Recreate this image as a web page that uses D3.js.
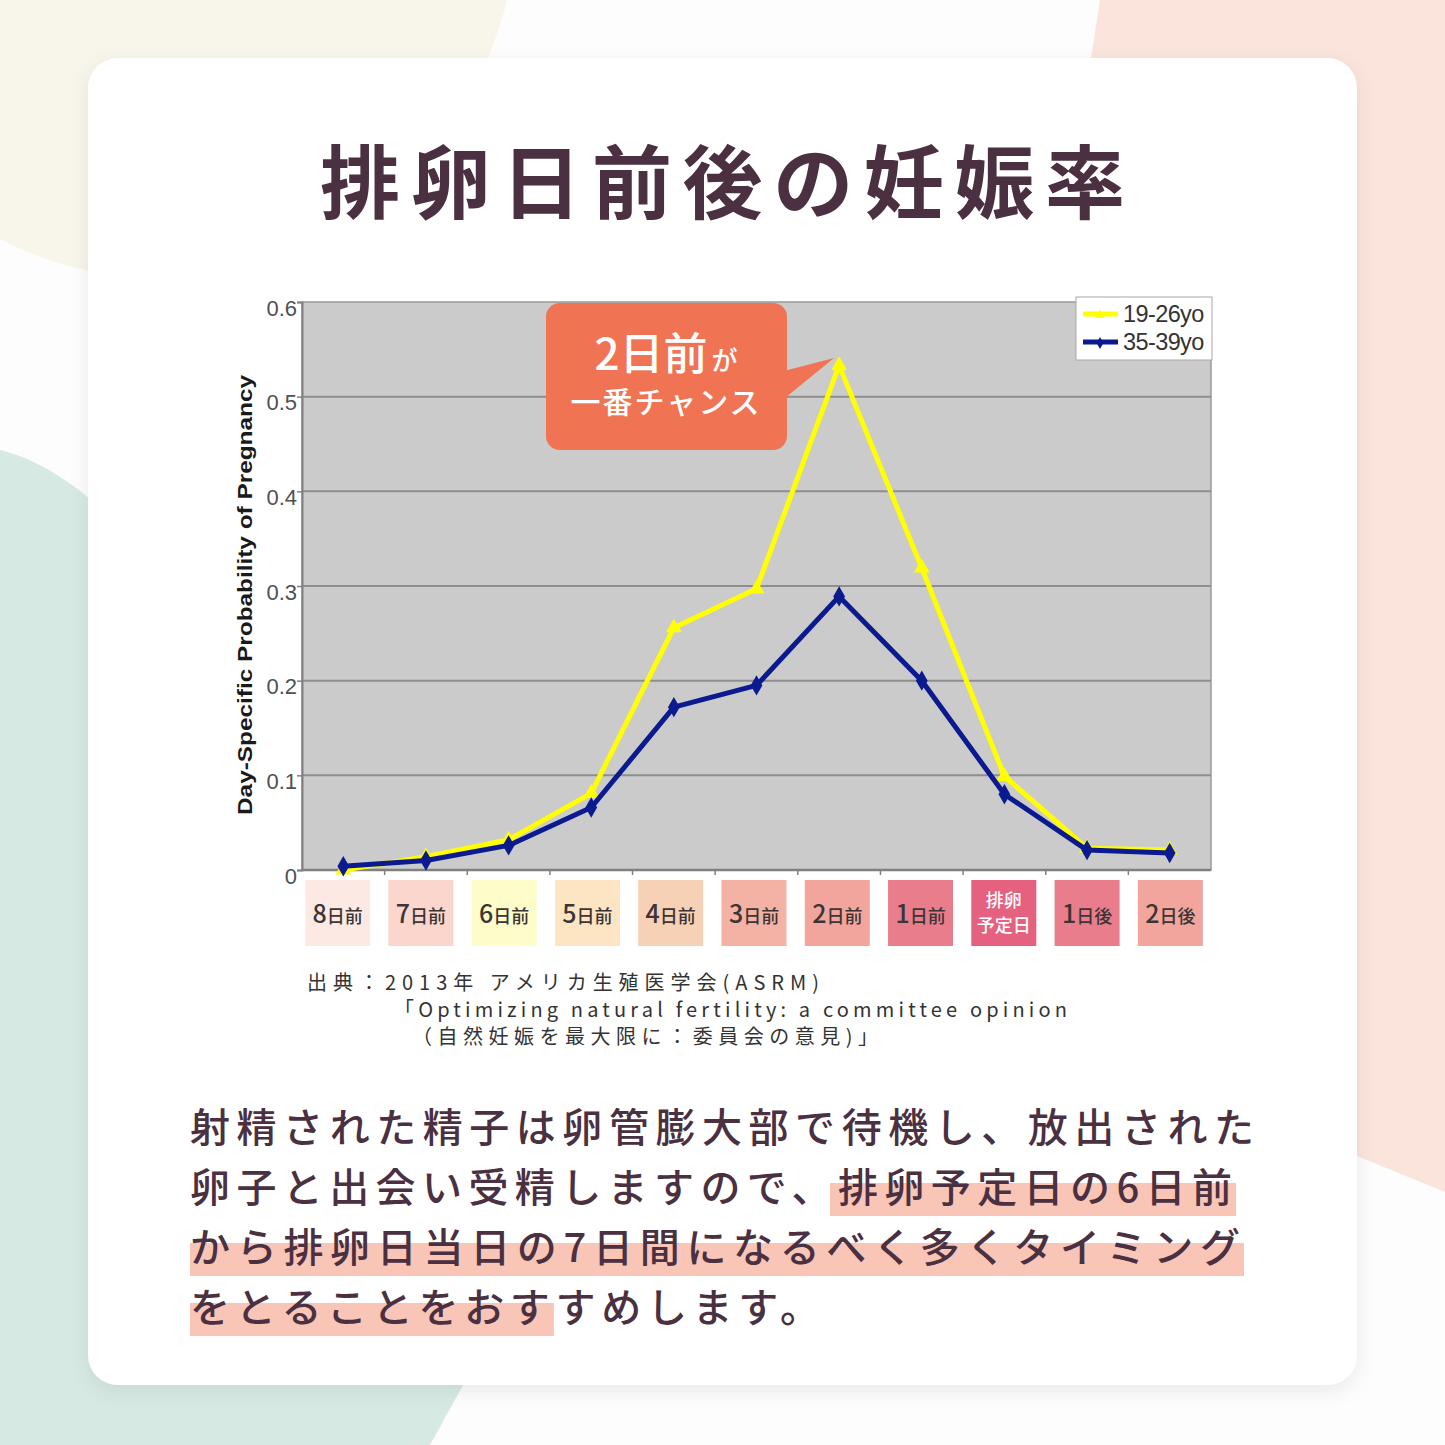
<!DOCTYPE html>
<html>
<head>
<meta charset="utf-8">
<script src="https://cdn.jsdelivr.net/npm/d3@7"></script>
<style>
  body { margin: 0; background: #fdfdfd; }
  svg { display: block; }
</style>
</head>
<body>
<script>
// data
var days = ["8日前", "7日前", "6日前", "5日前", "4日前", "3日前", "2日前", "1日前", "排卵予定日", "1日後", "2日後"];
var young = [0.000, 0.014, 0.032, 0.081, 0.256, 0.297, 0.533, 0.319, 0.099, 0.023, 0.021];
var older = [0.004, 0.010, 0.026, 0.066, 0.172, 0.195, 0.289, 0.200, 0.080, 0.021, 0.018];
var yTicks = [0, 0.1, 0.2, 0.3, 0.4, 0.5, 0.6];
var seriesNames = ["19-26yo", "35-39yo"];
var dayColors = ["#fde9e4", "#fbd6cd", "#fefcc8", "#fde4c2", "#f7d1b5", "#f3b2a4", "#f1a59d", "#ea7d8c", "#e5617f", "#ea7d8c", "#f1a59d"];

var W = 1445, H = 1445;
var ink = "#4a3040";

var svg = d3.select("body").append("svg")
  .attr("width", W)
  .attr("height", H);

var defs = svg.append("defs");
var f = defs.append("filter").attr("id", "shadow")
  .attr("x", "-10%").attr("y", "-10%").attr("width", "120%").attr("height", "120%");
f.append("feDropShadow")
  .attr("dx", 0).attr("dy", 6).attr("stdDeviation", 10)
  .attr("flood-color", "#000").attr("flood-opacity", 0.08);

// background blobs
var bg = svg.append("g");
bg.append("rect").attr("width", W).attr("height", H).attr("fill", "#fdfdfd");
bg.append("ellipse")
  .attr("cx", 160).attr("cy", -90).attr("rx", 358).attr("ry", 368)
  .attr("fill", "#f8f6ea");
bg.append("path")
  .attr("d", "M1100,0 L1445,0 L1445,1192 L1330,1145 L1060,260 Z")
  .attr("fill", "#fbe4dc");
bg.append("path")
  .attr("d", "M0,450 C55,463 110,510 160,570 L530,1180 L488,1340 L430,1445 L0,1445 Z")
  .attr("fill", "#d6eae3");

// card
svg.append("rect")
  .attr("x", 88).attr("y", 58)
  .attr("width", 1269).attr("height", 1327)
  .attr("rx", 30)
  .attr("fill", "#ffffff")
  .attr("filter", "url(#shadow)");

// title
svg.append("text")
  .attr("x", 320).attr("y", 212)
  .attr("textLength", 805)
  .attr("lengthAdjust", "spacing")
  .style("font-family", "'Noto Sans CJK JP'")
  .style("font-weight", 700)
  .style("font-size", "80px")
  .attr("fill", ink)
  .text("排卵日前後の妊娠率");

// chart
var x = d3.scalePoint().domain(days).range([302, 1211]).padding(0.5);
var xBox = d3.scalePoint().domain(days).range([296, 1212]).padding(0.5);
var y = d3.scaleLinear().domain([0, 0.6]).range([870, 302]);
var step = x.step();

var plot = svg.append("g");
plot.append("rect")
  .attr("x", 302).attr("y", y(0.6))
  .attr("width", 1211 - 302).attr("height", y(0) - y(0.6))
  .attr("fill", "#cbcbcb")
  .attr("stroke", "#9a9a9a")
  .attr("stroke-width", 1.5);

plot.selectAll("line.grid")
  .data(yTicks.slice(1, -1))
  .enter().append("line")
  .attr("class", "grid")
  .attr("x1", 302).attr("x2", 1211)
  .attr("y1", function (d) { return y(d); })
  .attr("y2", function (d) { return y(d); })
  .attr("stroke", "#8e8e8e")
  .attr("stroke-width", 2);

// left axis
var yAxis = d3.axisLeft(y)
  .tickValues(yTicks)
  .tickSize(5)
  .tickFormat(function (d) { return d === 0 ? "0" : d3.format(".1f")(d); });

var yAxisG = plot.append("g")
  .attr("transform", "translate(302,0)")
  .call(yAxis);
yAxisG.select(".domain").attr("stroke", "#808080").attr("stroke-width", 2);
yAxisG.selectAll(".tick line").attr("stroke", "#808080").attr("stroke-width", 1.5);
yAxisG.selectAll(".tick text")
  .attr("x", -5)
  .attr("dy", "0.6em")
  .style("font-family", "'Liberation Sans', Arial, sans-serif")
  .style("font-size", "22px")
  .attr("fill", "#505050");

// bottom axis line + ticks at category boundaries
plot.append("line")
  .attr("x1", 302).attr("x2", 1211)
  .attr("y1", y(0)).attr("y2", y(0))
  .attr("stroke", "#808080").attr("stroke-width", 2.5);
plot.selectAll("line.xtick")
  .data(days.slice(1))
  .enter().append("line")
  .attr("class", "xtick")
  .attr("x1", function (d) { return x(d) - step / 2; })
  .attr("x2", function (d) { return x(d) - step / 2; })
  .attr("y1", y(0)).attr("y2", y(0) + 5)
  .attr("stroke", "#808080").attr("stroke-width", 1.5);

// axis title
svg.append("text")
  .attr("transform", "translate(252,595) rotate(-90)")
  .attr("text-anchor", "middle")
  .attr("textLength", 440)
  .attr("lengthAdjust", "spacingAndGlyphs")
  .style("font-family", "'Liberation Sans', Arial, sans-serif")
  .style("font-weight", 700)
  .style("font-size", "20px")
  .attr("fill", "#1a1a1a")
  .text("Day-Specific Probability of Pregnancy");

// lines
var line = d3.line()
  .x(function (d, i) { return x(days[i]); })
  .y(function (d) { return y(d); });

plot.append("path")
  .datum(young)
  .attr("d", line)
  .attr("fill", "none")
  .attr("stroke", "#ffff00")
  .attr("stroke-width", 5)
  .attr("stroke-linejoin", "round");

plot.selectAll("path.tri")
  .data(young)
  .enter().append("path")
  .attr("class", "tri")
  .attr("d", d3.symbol().type(d3.symbolTriangle).size(110))
  .attr("transform", function (d, i) { return "translate(" + x(days[i]) + "," + y(d) + ")"; })
  .attr("fill", "#ffff00");

plot.append("path")
  .datum(older)
  .attr("d", line)
  .attr("fill", "none")
  .attr("stroke", "#0b1a8e")
  .attr("stroke-width", 5)
  .attr("stroke-linejoin", "round");

plot.selectAll("path.dia")
  .data(older)
  .enter().append("path")
  .attr("class", "dia")
  .attr("d", d3.symbol().type(d3.symbolDiamond).size(120))
  .attr("transform", function (d, i) { return "translate(" + x(days[i]) + "," + y(d) + ")"; })
  .attr("fill", "#0b1a8e");

// legend
var legend = svg.append("g").attr("transform", "translate(1076,297)");
legend.append("rect")
  .attr("width", 136).attr("height", 63)
  .attr("fill", "#fff")
  .attr("stroke", "#a8a8a8");
var legendColors = ["#ffff00", "#0b1a8e"];
var li = legend.selectAll("g.item")
  .data(seriesNames)
  .enter().append("g")
  .attr("class", "item")
  .attr("transform", function (d, i) { return "translate(0," + (17 + i * 28) + ")"; });
li.append("line")
  .attr("x1", 7).attr("x2", 42)
  .attr("stroke", function (d, i) { return legendColors[i]; })
  .attr("stroke-width", 5);
li.append("path")
  .attr("d", function (d, i) { return d3.symbol().type(i ? d3.symbolDiamond : d3.symbolTriangle).size(40)(); })
  .attr("transform", "translate(24,1)")
  .attr("fill", function (d, i) { return legendColors[i]; });
li.append("text")
  .attr("x", 47).attr("dy", "0.36em")
  .style("font-family", "'Liberation Sans', Arial, sans-serif")
  .style("font-size", "23.5px")
  .style("letter-spacing", "-0.6px")
  .attr("fill", "#333")
  .text(function (d) { return d; });

// callout
var co = svg.append("g");
co.append("path")
  .attr("d", "M780,372 L834,358 L780,402 Z")
  .attr("fill", "#f07453");
co.append("rect")
  .attr("x", 546).attr("y", 303)
  .attr("width", 241).attr("height", 147)
  .attr("rx", 14)
  .attr("fill", "#f07453");
var t1 = co.append("text")
  .attr("x", 666).attr("y", 370)
  .attr("text-anchor", "middle")
  .style("font-family", "'Noto Sans CJK JP'")
  .style("font-weight", 500)
  .attr("fill", "#fff");
t1.append("tspan").style("font-size", "44px").text("2日前");
t1.append("tspan").style("font-size", "26px").attr("dx", 4).text("が");
co.append("text")
  .attr("x", 666).attr("y", 413)
  .attr("text-anchor", "middle")
  .style("font-family", "'Noto Sans CJK JP'")
  .style("font-weight", 500)
  .style("font-size", "30px")
  .style("letter-spacing", "2px")
  .attr("fill", "#fff")
  .text("一番チャンス");

// category boxes
var cat = svg.selectAll("g.cat")
  .data(days)
  .enter().append("g")
  .attr("class", "cat")
  .attr("transform", function (d) { return "translate(" + xBox(d) + ",880)"; });
cat.append("rect")
  .attr("x", -32.5).attr("width", 65).attr("height", 66)
  .attr("fill", function (d, i) { return dayColors[i]; });
cat.each(function (d) {
  var g = d3.select(this);
  var m = d.match(/^(\d)(.*)$/);
  if (m) {
    var t = g.append("text")
      .attr("y", 43)
      .attr("text-anchor", "middle")
      .style("font-family", "'Noto Sans CJK JP'")
      .style("font-weight", 500)
      .attr("fill", "#3b3535");
    t.append("tspan").style("font-size", "25px").text(m[1]);
    t.append("tspan").style("font-size", "18px").text(m[2]);
  } else {
    [d.slice(0, 2), d.slice(2)].forEach(function (s, k) {
      g.append("text")
        .attr("y", 27 + k * 25)
        .attr("text-anchor", "middle")
        .style("font-family", "'Noto Sans CJK JP'")
        .style("font-weight", 500)
        .style("font-size", "18px")
        .attr("fill", "#fff")
        .text(s);
    });
  }
});

// source
var src = [
  { text: "出典：2013年 アメリカ生殖医学会(ASRM)", x: 307, y: 990, w: 512 },
  { text: "「Optimizing natural fertility: a committee opinion", x: 394, y: 1017, w: 673 },
  { text: "（自然妊娠を最大限に：委員会の意見)」", x: 412, y: 1044, w: 466 }
];
svg.selectAll("text.src")
  .data(src)
  .enter().append("text")
  .attr("class", "src")
  .attr("x", function (d) { return d.x; })
  .attr("y", function (d) { return d.y; })
  .attr("textLength", function (d) { return d.w; })
  .attr("lengthAdjust", "spacing")
  .style("font-family", "'Noto Sans CJK JP'")
  .style("font-size", "20px")
  .attr("fill", "#333")
  .text(function (d) { return d.text; });

// body text with highlights
var body = [
  { text: "射精された精子は卵管膨大部で待機し、放出された", w: 1064, hl: null },
  { text: "卵子と出会い受精しますので、排卵予定日の6日前", w: 1042, hl: [14, 23] },
  { text: "から排卵日当日の7日間になるべく多くタイミング", w: 1050, hl: [0, 23] },
  { text: "をとることをおすすめします。", w: 630, hl: [0, 8] }
];
var hlG = svg.append("g");
var txtG = svg.append("g");
body.forEach(function (b, i) {
  var by = 1142 + i * 60;
  var t = txtG.append("text")
    .attr("x", 190).attr("y", by)
    .attr("textLength", b.w)
    .attr("lengthAdjust", "spacing")
    .style("font-family", "'Noto Sans CJK JP'")
    .style("font-weight", 500)
    .style("font-size", "40px")
    .attr("fill", ink)
    .text(b.text);
  if (b.hl) {
    var node = t.node();
    var x0 = b.hl[0] === 0 ? 190 : node.getStartPositionOfChar(b.hl[0]).x - 8;
    var last = node.getExtentOfChar(b.hl[1] - 1);
    var x1 = last.x + last.width + 4;
    hlG.append("rect")
      .attr("x", x0).attr("y", by - 19)
      .attr("width", x1 - x0).attr("height", 33)
      .attr("fill", "#f8c5b6");
  }
});
</script>
</body>
</html>
